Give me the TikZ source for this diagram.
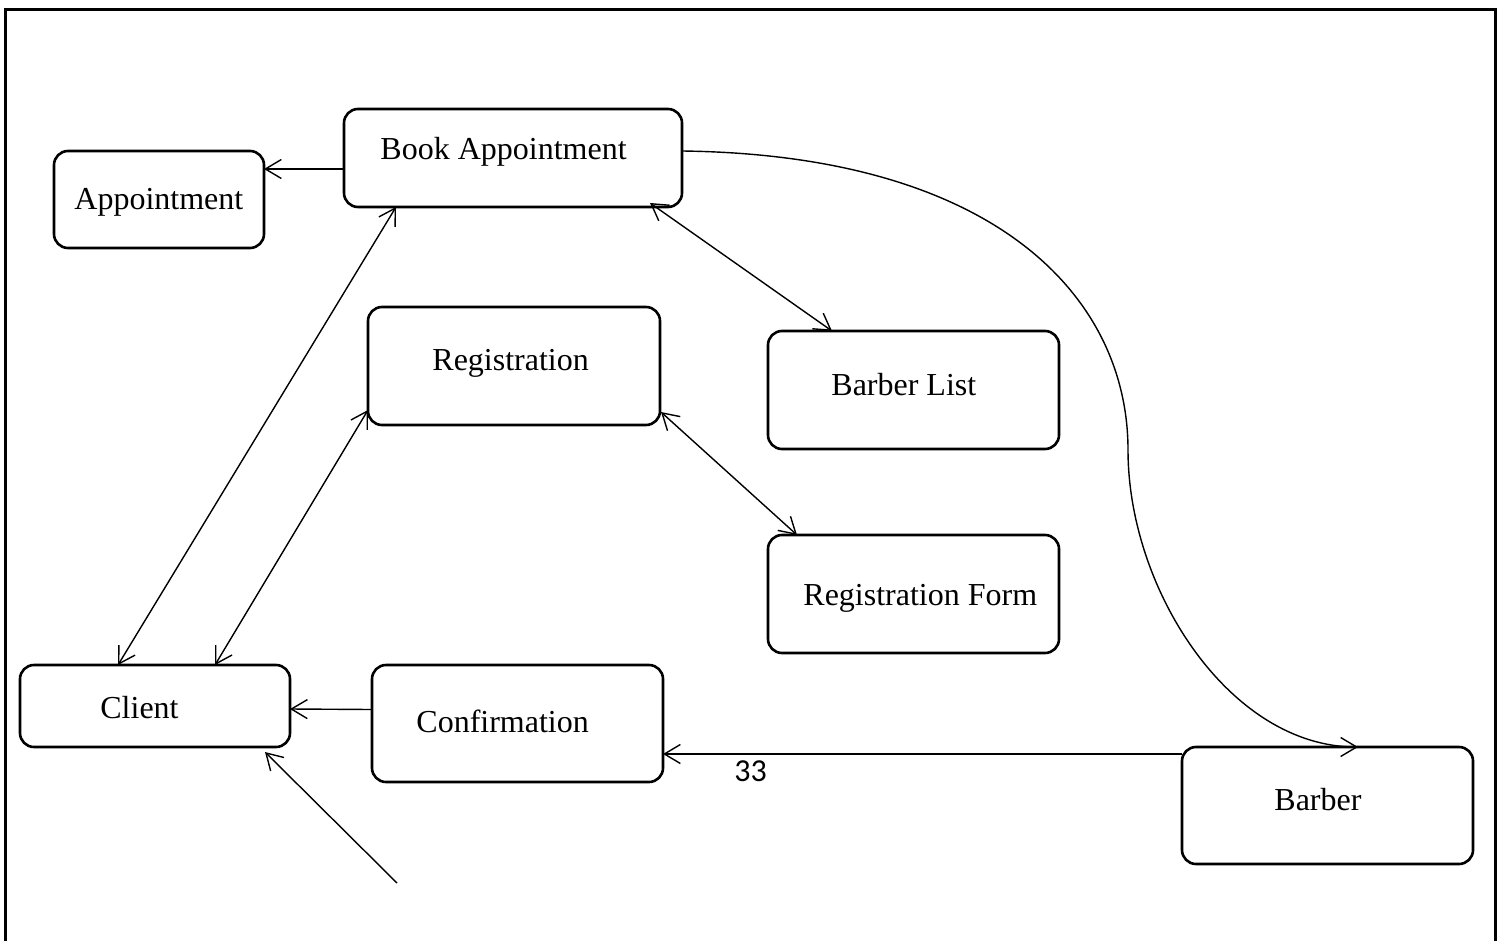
\documentclass[tikz,border=0pt]{standalone}
\usepackage{fontspec}
\setmainfont{Liberation Serif}
\newfontfamily\numfont{Carlito}
\usetikzlibrary{arrows.meta,calc}
\begin{document}
\begin{tikzpicture}[x=0.5pt,y=-0.5pt,
  box/.style={draw,line width=1.3pt,rounded corners=7pt,inner sep=0pt,outer sep=0pt},
  lbl/.style={anchor=base west,inner sep=0pt,font=\fontsize{16}{19}\selectfont},
  conn/.style={line width=0.7pt,-{Straight Barb[length=8pt,width=9.5pt,line width=0.7pt]}},
  bidir/.style={line width=0.7pt,{Straight Barb[length=8pt,width=9.5pt,line width=0.7pt]}-{Straight Barb[length=8pt,width=9.5pt,line width=0.7pt]}}]
\useasboundingbox (0,0) rectangle (1502,941);
% frame
\draw[line width=1.5pt] (5,941) -- (5,10) -- (1495,10) -- (1495,941);

% boxes
\node[box,minimum width=169pt,minimum height=49pt] (bk) at (513,158) {};
\node[box,minimum width=105pt,minimum height=48.5pt] (ap) at (159,199.5) {};
\node[box,minimum width=146pt,minimum height=59pt] (rg) at (514,366) {};
\node[box,minimum width=145.5pt,minimum height=59pt] (bl) at (913.5,390) {};
\node[box,minimum width=145.5pt,minimum height=59pt] (rf) at (913.5,594) {};
\node[box,minimum width=135pt,minimum height=41pt] (cl) at (155,706) {};
\node[box,minimum width=145.5pt,minimum height=58.5pt] (cf) at (517.5,723.5) {};
\node[box,minimum width=145.5pt,minimum height=58.5pt] (bb) at (1327.5,805.5) {};

% labels
\node[lbl] (tbk) at (380,159.5) {Book Appointment};
\node[lbl] (tap) at (74,209.5) {Appointment};
\node[lbl] (trg) at (432,370.5) {Registration};
\node[lbl] (tbl) at (831,395) {Barber List};
\node[lbl] (trf) at (803,605) {Registration Form};
\node[lbl] (tcl) at (100,718.5) {Client};
\node[lbl] (tcf) at (416,732.5) {Confirmation};
\node[lbl] (tbb) at (1274,810.5) {Barber};
\node[lbl,font=\numfont\fontsize{16}{19}\selectfont] (n33) at (734,781) {33};

% connectors
\draw[conn] ($(bk.west)+(0,11)$) -- ($(ap.east)+(0,-30.5)$);
\draw[bidir] ($(cl.north west)+(98,0)$) -- ($(bk.south west)+(52,0)$);
\draw[bidir] ($(cl.north west)+(195,0)$) -- ($(rg.south west)+(0,-15)$);
\draw[bidir] ($(bk.south east)+(-32,-4)$) -- ($(bl.north west)+(64,0)$);
\draw[bidir] ($(rg.south east)+(1,-13)$) -- ($(rf.north west)+(29,0)$);
\draw[conn] ($(cf.west)+(0,-14)$) -- ($(cl.east)+(0,3)$);
\draw[conn] ($(bb.north west)+(0,7)$) -- ($(cf.east)+(0,30.5)$);
\coordinate (src) at (397,883);
\draw[conn] (src) -- ($(cl.south east)+(-25,5)$);
\draw[conn] ($(bk.east)+(0,-7)$) .. controls (1000,155) and (1128,300) .. (1128,450)
  .. controls (1128,590) and (1230,747) .. ($(bb.north west)+(176,0)$);
\end{tikzpicture}
\end{document}
